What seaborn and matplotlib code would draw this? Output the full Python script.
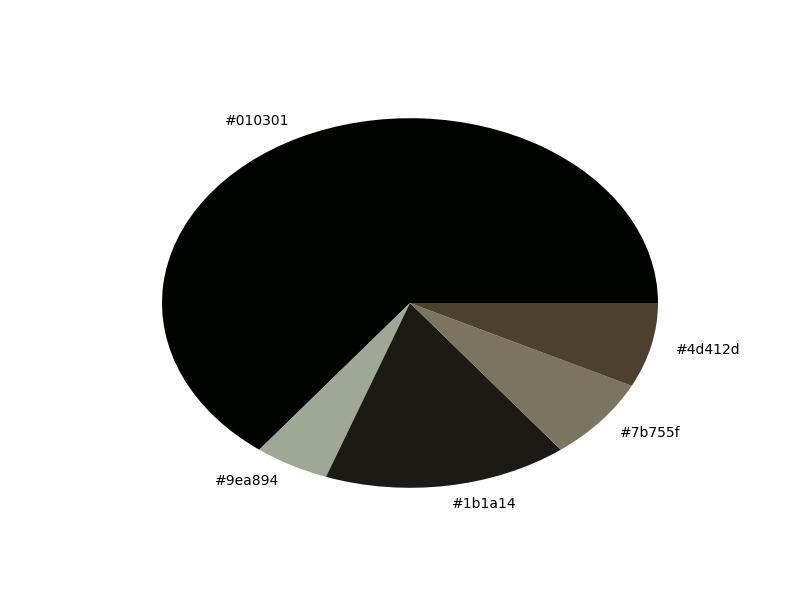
import matplotlib
matplotlib.use("Agg")
from matplotlib import pyplot as plt
import seaborn as sns

# slice shares, counter-clockwise from 3 o'clock
labels = ['#010301', '#9ea894', '#1b1a14', '#7b755f', '#4d412d']
shares = [64.6, 4.9, 15.9, 7.2, 7.4]

palette = sns.color_palette(labels)

fig, ax = plt.subplots(figsize=(8, 6), dpi=100)
ax.pie(shares, labels=labels, colors=palette)
# reference pie is stretched to fill the axes (no equal aspect)
ax.set_aspect('auto')

fig.savefig("out.png")
